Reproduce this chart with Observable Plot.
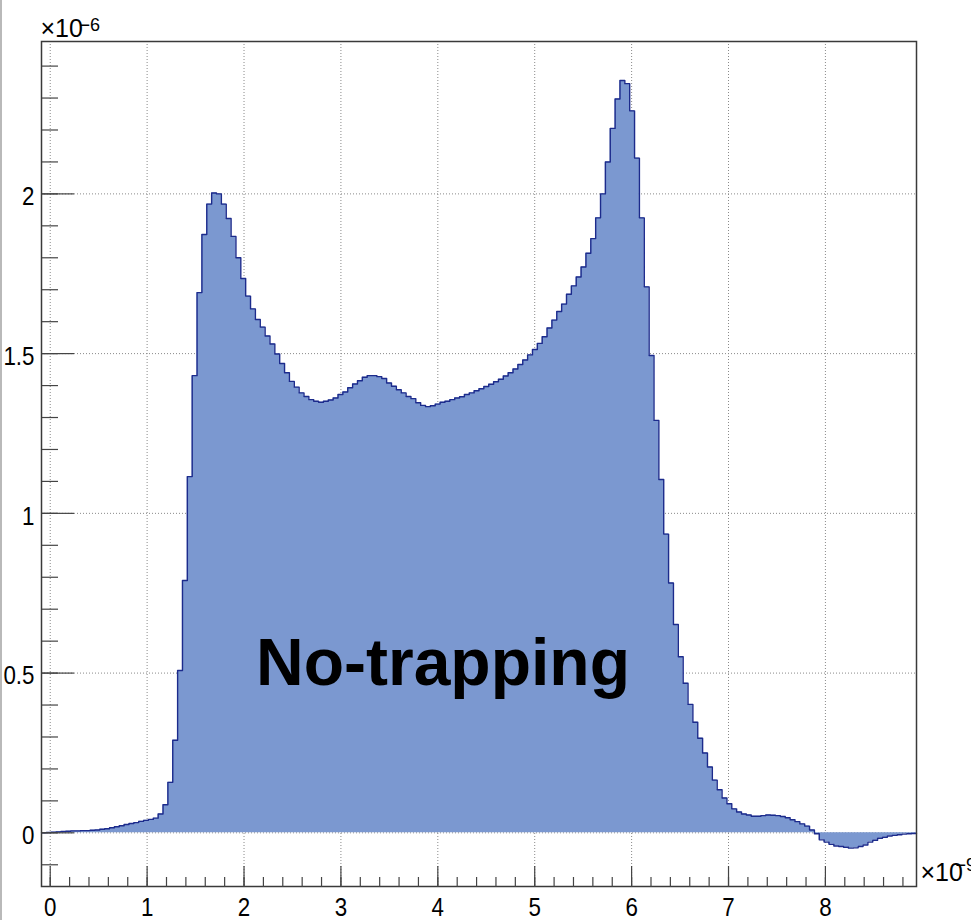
<!DOCTYPE html>
<html>
<head>
<meta charset="utf-8">
<script src="https://cdn.jsdelivr.net/npm/d3@7"></script>
<script src="https://cdn.jsdelivr.net/npm/@observablehq/plot@0.6"></script>
<style>
  html, body { margin: 0; padding: 0; background: #fff; }
  #chart { position: relative; width: 971px; height: 920px; overflow: hidden; }
  #chart svg { display: block; }
  #edge { position: absolute; left: 0; top: 0; width: 2px; height: 920px; background: #b9b9b9; }
</style>
</head>
<body>
<div id="chart"><div id="edge"></div></div>
<script>
// Histogram range (units of 1e-9) and bin contents (units of 1e-6), 180 equal bins
const xMin = -0.09;
const xMax = 8.94;
const yMin = -0.168;
const yMax = 2.477;

const counts = [
  0.000, 0.001, 0.002, 0.003, 0.004, 0.005, 0.006, 0.006, 0.007, 0.007,
  0.008, 0.009, 0.011, 0.013, 0.016, 0.019, 0.022, 0.026, 0.029, 0.032,
  0.036, 0.039, 0.042, 0.046, 0.059, 0.088, 0.158, 0.290, 0.508, 0.790,
  1.115, 1.431, 1.691, 1.873, 1.968, 2.003, 2.000, 1.968, 1.923, 1.867,
  1.800, 1.735, 1.680, 1.640, 1.607, 1.583, 1.555, 1.530, 1.499, 1.469,
  1.440, 1.413, 1.395, 1.377, 1.366, 1.356, 1.351, 1.348, 1.351, 1.355,
  1.361, 1.372, 1.380, 1.393, 1.405, 1.415, 1.426, 1.431, 1.431, 1.428,
  1.422, 1.408, 1.398, 1.387, 1.377, 1.366, 1.359, 1.346, 1.338, 1.334,
  1.337, 1.342, 1.348, 1.351, 1.356, 1.361, 1.365, 1.372, 1.377, 1.384,
  1.390, 1.397, 1.404, 1.412, 1.420, 1.430, 1.440, 1.452, 1.466, 1.480,
  1.496, 1.513, 1.532, 1.553, 1.580, 1.605, 1.632, 1.655, 1.686, 1.712,
  1.740, 1.771, 1.814, 1.860, 1.925, 2.000, 2.100, 2.205, 2.297, 2.355,
  2.345, 2.260, 2.112, 1.925, 1.709, 1.494, 1.291, 1.106, 0.935, 0.782,
  0.652, 0.551, 0.468, 0.402, 0.346, 0.296, 0.250, 0.206, 0.165, 0.135,
  0.109, 0.091, 0.075, 0.065, 0.059, 0.056, 0.052, 0.052, 0.054, 0.056,
  0.055, 0.054, 0.051, 0.047, 0.041, 0.035, 0.028, 0.021, 0.009, -0.003,
  -0.022, -0.029, -0.036, -0.041, -0.043, -0.045, -0.048, -0.047, -0.043, -0.038,
  -0.029, -0.023, -0.017, -0.014, -0.010, -0.008, -0.006, -0.004, -0.003, -0.002
];

// Axis ticks
const xMajor = [0, 1, 2, 3, 4, 5, 6, 7, 8];
const xMinor = d3.range(0, 45).map(i => +(i * 0.2).toFixed(1));
const yMajor = [0, 0.5, 1, 1.5, 2];
const yMinor = d3.range(-1, 25).map(i => +(i * 0.1).toFixed(1));
const yExponent = "\u22126";
const xExponent = "\u22129";
const title = "No-trapping";

// Step outline: left edge of each bin, plus the closing right edge
const binWidth = (xMax - xMin) / counts.length;
const steps = counts.map((v, i) => ({x: xMin + i * binWidth, v}));
steps.push({x: xMax, v: counts[counts.length - 1]});

const fillColor = "#7b98d0";
const lineColor = "#1c2b8c";
const gridStyle = {stroke: "#8a8a8a", strokeWidth: 1, strokeDasharray: "1,2"};
const tickStyle = {stroke: "#444", strokeWidth: 1.2, fill: "none", label: null};
const labelStyle = {tickSize: 0, fontSize: 26, fill: "#000", label: null, tickFormat: d => String(d)};

const svg = Plot.plot({
  width: 971,
  height: 920,
  marginLeft: 41,
  marginRight: 55,
  marginTop: 41,
  marginBottom: 34,
  style: {fontFamily: "'Liberation Sans', Arial, Helvetica, sans-serif", background: "#fff", overflow: "visible"},
  x: {domain: [xMin, xMax], label: null},
  y: {domain: [yMin, yMax], label: null},
  marks: [
    Plot.ruleX(xMajor, gridStyle),
    Plot.ruleY(yMajor, gridStyle),
    Plot.areaY(steps, {x: "x", y1: 0, y2: "v", curve: "step-after", fill: fillColor}),
    Plot.line(steps, {x: "x", y: "v", curve: "step-after", stroke: lineColor, strokeWidth: 1.4}),
    Plot.frame({stroke: "#3a3a3a", strokeWidth: 1.5}),
    // inward ticks on the bottom and left edges of the frame
    Plot.axisX(xMinor, {anchor: "top", tickSize: 10, dy: 845, ...tickStyle}),
    Plot.axisX(xMajor, {anchor: "top", tickSize: 21, dy: 845, ...tickStyle}),
    Plot.axisY(yMinor, {anchor: "right", tickSize: 16, dx: -875, ...tickStyle}),
    Plot.axisY(yMajor, {anchor: "right", tickSize: 32, dx: -875, ...tickStyle}),
    // tick labels
    Plot.axisX(xMajor, {anchor: "bottom", tickPadding: 11, ...labelStyle}),
    Plot.axisY(yMajor, {anchor: "left", tickPadding: 7, dy: 3, ...labelStyle}),
    // axis multipliers
    Plot.text(["×10"], {frameAnchor: "top-left", dx: -1, dy: -5, lineAnchor: "bottom", textAnchor: "start", fontSize: 25, fill: "#000", ariaLabel: "exponent-y"}),
    Plot.text([yExponent], {frameAnchor: "top-left", dx: 38, dy: -11, lineAnchor: "bottom", textAnchor: "start", fontSize: 18, fill: "#000", ariaLabel: "exponent-y"}),
    Plot.text(["×10"], {frameAnchor: "bottom-right", dx: 4, dy: -6, lineAnchor: "bottom", textAnchor: "start", fontSize: 25, fill: "#000", ariaLabel: "exponent-x"}),
    Plot.text([xExponent], {frameAnchor: "bottom-right", dx: 39, dy: -16, lineAnchor: "bottom", textAnchor: "start", fontSize: 18, fill: "#000", ariaLabel: "exponent-x"}),
    Plot.text([title], {frameAnchor: "top-left", dx: 401.5, dy: 643, lineAnchor: "bottom", textAnchor: "middle", fontSize: 66, fontWeight: "bold", fill: "#000", ariaLabel: "title"})
  ]
});

// Narrow the glyphs, Helvetica-condensed style
function squeeze(selector, k) {
  d3.select(svg).selectAll(selector).each(function () {
    const t = this.getAttribute("transform") || "";
    this.setAttribute("transform", `${t} scale(${k},1)`);
  });
}
squeeze('g[aria-label="x-axis tick label"] text', 0.86);
squeeze('g[aria-label="y-axis tick label"] text', 0.86);
squeeze('g[aria-label="exponent-y"] text', 0.88);
squeeze('g[aria-label="exponent-x"] text', 0.8);
squeeze('g[aria-label="title"] text', 0.91);

document.getElementById("chart").appendChild(svg);
</script>
</body>
</html>
